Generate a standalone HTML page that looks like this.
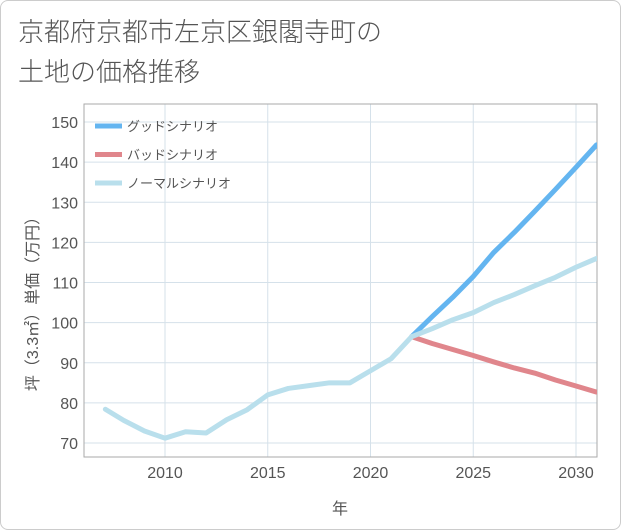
<!DOCTYPE html>
<html><head><meta charset="utf-8"><style>
body{margin:0;background:#fff;font-family:"Liberation Sans","Noto Sans CJK JP",sans-serif;}
#card{position:absolute;left:0;top:0;width:619px;height:528px;border:1px solid #ccc;border-radius:8px;background:#fff;}
#title{position:absolute;left:17px;top:10px;font-size:26px;line-height:40px;color:#555;font-family:"Noto Sans CJK JP",sans-serif;font-weight:300;}
</style></head><body>
<div id="card">
<div id="title">京都府京都市左京区銀閣寺町の<br>土地の価格推移</div>
<svg id="chart" width="621" height="530" style="position:absolute;left:-1px;top:-1px"></svg>
</div>
<script>
const years=[2007,2008,2009,2010,2011,2012,2013,2014,2015,2016,2017,2018,2019,2020,2021,2022,2023,2024,2025,2026,2027,2028,2029,2030,2031];
const normalVals=[78.4,75.6,73,71.2,72.8,72.5,75.8,78.3,82,83.6,84.3,85,85,88,91,96.5,98.5,100.7,102.5,105,107,109.2,111.3,113.8,116];
const goodYears=[2022,2023,2024,2025,2026,2027,2028,2029,2030,2031];
const goodVals=[96.5,101.5,106.3,111.5,117.5,122.5,127.8,133.2,138.7,144.3];
const badVals=[96.5,94.8,93.3,91.8,90.2,88.7,87.4,85.7,84.2,82.7];
const xTicks=[2010,2015,2020,2025,2030];
const yTicks=[70,80,90,100,110,120,130,140,150];
const L=84,R=597,T=104,B=457;
const x=v=>165+(v-2010)*20.55+(v===2007?2:0);
const y=v=>443-(v-70)*4.0125;
const svg=document.getElementById('chart');
const NS='http://www.w3.org/2000/svg';
function mk(t,a,p){const e=document.createElementNS(NS,t);for(const k in a)e.setAttribute(k,a[k]);(p||svg).appendChild(e);return e;}
let g;
xTicks.forEach(v=>{g=mk('line',{x1:x(v),x2:x(v),y1:T,y2:B,stroke:'#d5e1ea','stroke-width':1});


const t=mk('text',{x:x(v),y:478,'text-anchor':'middle','font-size':16,fill:'#555'});t.textContent=v;

});
yTicks.forEach(v=>{g=mk('line',{x1:L,x2:R,y1:y(v),y2:y(v),stroke:'#d5e1ea','stroke-width':1});


const t=mk('text',{x:78,y:y(v)+6,'text-anchor':'end','font-size':16,fill:'#555'});t.textContent=v;

});
const fr=mk('rect',{x:L,y:T,width:R-L,height:B-T,fill:'none',stroke:'#aaa','stroke-width':1});


function line(xs,vs,c,n){const p=mk('polyline',{points:xs.map((yr,i)=>x(yr)+','+y(vs[i])).join(' '),fill:'none',stroke:c,'stroke-width':5,'stroke-linejoin':'round','stroke-linecap':'round'});

}
const clip=mk('clipPath',{id:'c'});mk('rect',{x:L,y:T,width:R-L,height:B-T},clip);
line(goodYears,badVals,'#e0868c','bad-scenario-line');
line(goodYears,goodVals,'#64b5f0','good-scenario-line');
line(years.slice(0,16),normalVals.slice(0,16),'#b9dfec','normal-history-line');
line(goodYears,normalVals.slice(15),'#b9dfec','normal-scenario-line');
svg.querySelectorAll('polyline').forEach(p=>p.setAttribute('clip-path','url(#c)'));
const leg=[['グッドシナリオ','#64b5f0'],['バッドシナリオ','#e0868c'],['ノーマルシナリオ','#b9dfec']];
leg.forEach((d,i)=>{const yy=126+i*28.5;
const l=mk('line',{x1:95,x2:122,y1:yy,y2:yy,stroke:d[1],'stroke-width':5});


const t=mk('text',{x:127,y:yy+5,'font-size':13,fill:'#555'});t.textContent=d[0];

});
const xt=mk('text',{x:340,y:514,'text-anchor':'middle','font-size':16,fill:'#555'});xt.textContent='年';


const yt=mk('text',{x:0,y:0,'text-anchor':'middle','font-size':16,fill:'#555',transform:'translate(38,300) rotate(-90)'});yt.textContent='坪（3.3㎡）単価（万円）';


</script>
</body></html>
